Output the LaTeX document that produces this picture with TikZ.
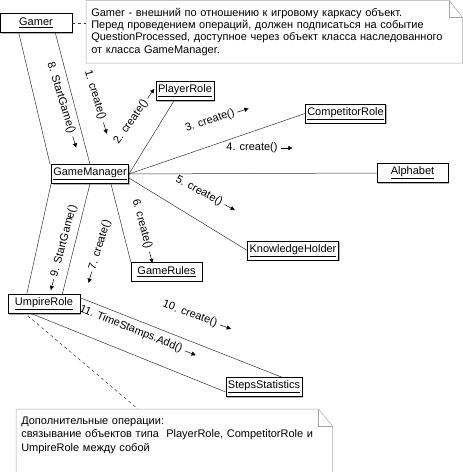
\documentclass[tikz,border=0pt]{standalone}
\usepackage{fontspec}
\setmainfont{Liberation Sans}
\usepackage{tikz}
\usetikzlibrary{arrows.meta}
\usetikzlibrary{shadows}
\usetikzlibrary{calc}
\usetikzlibrary{positioning}

\begin{document}
\begin{tikzpicture}[x=1pt, y=-1pt,
        font=\fontsize{11}{12.3}\selectfont,
        line width=0.5pt,
        every node/.style={inner sep=2pt},
        obj/.style={draw, fill=white, minimum height=19pt,
          drop shadow={shadow xshift=1.2pt, shadow yshift=-1.2pt, fill=gray!60, opacity=1}},
        lbl/.style={inner sep=1pt},
        msg/.style={-{Latex[length=4.5pt,width=4.5pt]}},
        notebox/.style={text width=#1, inner xsep=5pt, inner ysep=0pt, align=left},
        notefr/.style={draw=gray!70},
        link/.style={draw=black!80}]

      \useasboundingbox (0,0) rectangle (463,472);

      % notes
      \node[notebox=366pt, minimum height=62pt, anchor=north west] (note_top) at (86,0.5)
        {Gamer - внешний по отношению к игровому каркасу объект.\\
         Перед проведением операций, должен подписаться на событие\\
         QuestionProcessed, доступное через объект класса наследованного\\
         от класса GameManager.};
      \draw[notefr] (note_top.north west) -- ([xshift=-13pt]note_top.north east)
        -- ([yshift=-17pt]note_top.north east) -- (note_top.south east)
        -- (note_top.south west) -- cycle;
      \draw[notefr] ([xshift=-13pt]note_top.north east) |- ([yshift=-17pt]note_top.north east);

      \node[notebox=306pt, minimum height=63pt, anchor=north west,
            font=\fontsize{11}{13.5}\selectfont] (note_bot) at (16,409)
        {Дополнительные операции:\\
         связывание объектов типа~ PlayerRole, CompetitorRole и\\
         UmpireRole между собой\\
         \mbox{}};
      \draw[notefr] (note_bot.north west) -- ([xshift=-14pt]note_bot.north east)
        -- ([yshift=-17pt]note_bot.north east) -- (note_bot.south east)
        -- (note_bot.south west) -- cycle;
      \draw[notefr] ([xshift=-14pt]note_bot.north east) |- ([yshift=-17pt]note_bot.north east);

      % objects
      \node[obj, minimum width=72pt] (gamer) at (36,23)    {\underline{Gamer}};
      \node[obj, minimum width=54pt] (pr)    at (185,91)   {\underline{PlayerRole}};
      \node[obj, minimum width=79pt] (cr)    at (345.5,113.5) {\underline{CompetitorRole}};
      \node[obj, minimum width=76pt] (gm)    at (90,174)   {\underline{GameManager}};
      \node[obj, minimum width=71pt] (ab)    at (412.5,173) {\underline{Alphabet}};
      \node[obj, minimum width=90pt] (kh)    at (293,250.5) {\underline{KnowledgeHolder}};
      \node[obj, minimum width=71pt] (gr)    at (166.5,271.5) {\underline{GameRules}};
      \node[obj, minimum width=72pt] (ur)    at (44,304)   {\underline{UmpireRole}};
      \node[obj, minimum width=76pt] (ss)    at (264,387)  {\underline{StepsStatistics}};

      % links
      \path[link]
      ([xshift=19pt]gamer.south west) edge ([xshift=-1pt]gm.north west)
      ([xshift=-17pt]gamer.south east) edge (gm.north)
      (gm.east) edge ([xshift=-11pt]pr.south)
      (gm.east) edge (cr.west)
      (gm.east) edge (ab.west)
      ([yshift=-4pt]gm.east) edge (kh.west)
      ([xshift=-18pt]gm.south east) edge (gr.north west)
      (gm.south west) edge ([xshift=19pt]ur.north west)
      (gm.south) edge ([xshift=-18pt]ur.north east)
      ([yshift=-3.5pt]ur.north east) edge ([xshift=18pt]ss.north)
      ([xshift=24pt]ur.south west) edge ([yshift=-5pt]ss.west);

      \draw[link, dashed] (gamer.east) -- (gamer.east -| note_top.west);
      \draw[link, dashed] ([xshift=20pt,yshift=-2pt]ur.south west) -- ([xshift=122pt]note_bot.north west);

      % messages
      \node[lbl, rotate=-73] (m1)  at (95,95)   {1. create()};
      \node[lbl, rotate=55]  (m2)  at (131,122) {2. create()};
      \node[lbl, rotate=18]  (m3)  at (210,121) {3. create()};
      \node[lbl]             (m4)  at (252,148) {4. create()};
      \node[lbl, rotate=-28] (m5)  at (199,191) {5. create()};
      \node[lbl, rotate=-75] (m6)  at (142,224) {6. create()};
      \node[lbl, rotate=73]  (m7)  at (100,245) {7. create()};
      \node[lbl, rotate=-73] (m8)  at (61,98)   {8. StartGame()};
      \node[lbl, rotate=75]  (m9)  at (64,241)  {9. StartGame()};
      \node[lbl, rotate=-20] (m10) at (190,314) {10. create()};
      \node[lbl, rotate=-22] (m11) at (131,329) {11. TimeStamps.Add()};

      \foreach \m in {m1,m2,m3,m4,m5,m6,m8,m10,m11}
        \draw[msg] ($(\m.east)!-2pt!(\m.west)$) -- ($(\m.east)!-14pt!(\m.west)$);
      \foreach \m in {m7,m9}
        \draw[msg] ($(\m.west)!-1pt!(\m.east)$) -- ($(\m.west)!-13pt!(\m.east)$);

\end{tikzpicture}
\end{document}
